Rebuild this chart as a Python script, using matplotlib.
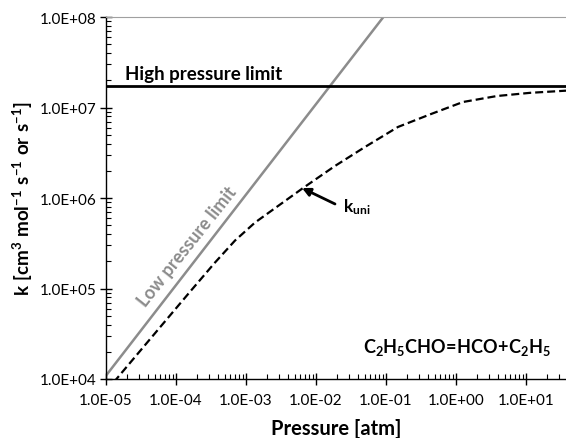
import numpy as np
import matplotlib.pyplot as plt
from matplotlib.ticker import FuncFormatter, LogLocator

plt.rcParams['font.family'] = ['Lato', 'DejaVu Sans']
plt.rcParams['mathtext.fontset'] = 'custom'
plt.rcParams['mathtext.rm'] = 'Lato:bold'
plt.rcParams['mathtext.bf'] = 'Lato:bold'
plt.rcParams['mathtext.it'] = 'Lato:bold'

# limites de presion
high_k = 1.71e7
low_P = [1e-5, 1e-1]
low_k = [1.09e4, 1.09e8]

# curva k_uni (log10 de P y k)
kuni_logP = [-5.000, -4.171, -3.800, -3.443, -3.157, -2.871, -2.186, -1.729,
             -1.300, -0.829, -0.357, 0.100, 0.586, 1.057, 1.571]
kuni_logk = [3.863, 4.624, 4.964, 5.287, 5.530, 5.729, 6.110, 6.354,
             6.564, 6.785, 6.928, 7.061, 7.127, 7.162, 7.186]
kuni_P = [10 ** v for v in kuni_logP]
kuni_k = [10 ** v for v in kuni_logk]

fig = plt.figure(figsize=(5.66, 4.39), dpi=100)
ax = fig.add_axes([106 / 566, 1 - 380 / 439, 460 / 566, 362 / 439])

ax.plot(low_P, low_k, color='#8c8c8c', lw=1.8)
ax.axhline(high_k, color='black', lw=2.0)
ax.plot(kuni_P, kuni_k, color='black', lw=1.6, linestyle=(0, (3.6, 1.8)))

ax.set_xscale('log')
ax.set_yscale('log')
ax.set_xlim(1e-5, 10 ** 1.571)
ax.set_ylim(1e4, 1e8)

fmt = FuncFormatter(lambda v, p: f'{v:.1E}')
ax.xaxis.set_major_formatter(fmt)
ax.yaxis.set_major_formatter(fmt)
ax.xaxis.set_major_locator(LogLocator(base=10, numticks=20))
ax.yaxis.set_major_locator(LogLocator(base=10, numticks=20))
ax.xaxis.set_minor_locator(LogLocator(base=10, subs=np.arange(2, 10), numticks=20))
ax.yaxis.set_minor_locator(LogLocator(base=10, subs=np.arange(2, 10), numticks=20))
ax.xaxis.set_minor_formatter(FuncFormatter(lambda v, p: ''))
ax.yaxis.set_minor_formatter(FuncFormatter(lambda v, p: ''))
ax.tick_params(which='major', direction='inout', length=8, width=1, labelsize=11)
ax.tick_params(axis='x', which='major', pad=6)
ax.tick_params(axis='y', which='major', pad=3)
ax.tick_params(which='minor', direction='in', length=3.5, width=0.8)

ax.spines['right'].set_visible(False)
ax.spines['top'].set_color('#a0a0a0')
ax.spines['left'].set_linewidth(1)
ax.spines['bottom'].set_linewidth(1)

ax.set_xlabel('Pressure [atm]', fontsize=14.5, fontweight='bold', labelpad=8)
ax.set_ylabel(r'$\mathrm{k\ [cm^3\ mol^{-1}\ s^{-1}\ or\ s^{-1}]}$', fontsize=13.5, labelpad=3)

ax.text(1.87e-5, high_k * 1.12, 'High pressure limit', fontsize=13.5, fontweight='bold',
        ha='left', va='bottom')
ax.text(10 ** -3.836, 10 ** 5.475, 'Low pressure limit', fontsize=13, fontweight='bold',
        color='#8c8c8c', rotation=51.5, rotation_mode='anchor', ha='center', va='center')
ax.annotate('', xy=(10 ** -2.2, 10 ** 6.11), xytext=(10 ** -1.729, 10 ** 5.934),
            arrowprops=dict(arrowstyle='-|>', color='black', lw=2, mutation_scale=12,
                            shrinkA=0, shrinkB=0))
ax.text(10 ** -1.614, 10 ** 5.912, r'$\mathrm{k_{uni}}$', fontsize=12.5, ha='left', va='center')
ax.text(10 ** -1.329, 10 ** 4.298, r'$\mathrm{C_2H_5CHO\!=\!HCO\!+\!C_2H_5}$', fontsize=13,
        ha='left', va='baseline')

fig.savefig('out.png', dpi=100)
